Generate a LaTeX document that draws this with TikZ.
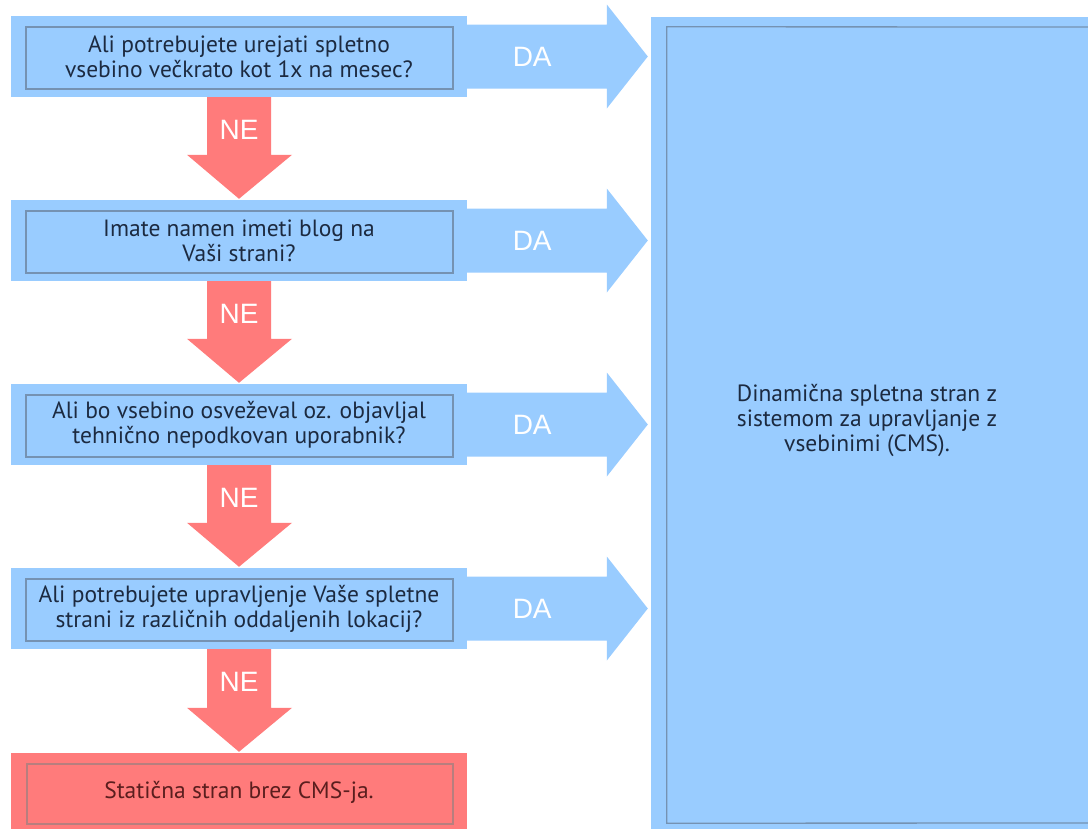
\documentclass[tikz,border=0pt]{standalone}
\usepackage{fontspec}
\setmainfont{PT Sans}
\newfontfamily\arialfont{Liberation Sans}
\usetikzlibrary{calc}
\definecolor{cblue}{HTML}{99CCFF}
\definecolor{cbline}{HTML}{7592B2}
\definecolor{cred}{HTML}{FF7B7B}
\definecolor{crline}{HTML}{B87E7E}
\definecolor{ctext}{HTML}{1C2A40}
\definecolor{crtext}{HTML}{5A1E1E}
\tikzset{
  qbox/.style={fill=cblue, minimum width=456bp, minimum height=81bp, inner sep=0pt,
    align=center, text=ctext, font=\fontsize{23.5bp}{25bp}\selectfont,
    path picture={\draw[cbline, line width=1.3bp]
      ([shift={(15bp,8bp)}]path picture bounding box.south west) rectangle
      ([shift={(-14bp,-11bp)}]path picture bounding box.north east);}},
  endbox/.style={fill=cred, minimum width=456bp, minimum height=78bp, inner sep=0pt,
    align=center, text=crtext, font=\fontsize{23.5bp}{25bp}\selectfont,
    path picture={\draw[crline, line width=1.3bp]
      ([shift={(16bp,7bp)}]path picture bounding box.south west) rectangle
      ([shift={(-14bp,-11bp)}]path picture bounding box.north east);}},
  dynbox/.style={fill=cblue, minimum width=520bp, minimum height=817bp, inner sep=0pt},
  innerline/.style={cbline, line width=1.3bp},
  dyntext/.style={align=center, text=ctext, font=\fontsize{23.5bp}{25bp}\selectfont, inner sep=0pt},
  yesno/.style={text=white, font=\arialfont\fontsize{28bp}{30bp}\selectfont, inner sep=0pt}
}
\newcommand\daarrow[2]{%
  \fill[cblue] ($(#1.east)+(0,-32)$) -- ($(#1.east -| dyn.west)+(-44,-32)$)
    -- ($(#1.east -| dyn.west)+(-44,-52)$) -- ($(#1.east -| dyn.west)+(-3,0)$)
    -- ($(#1.east -| dyn.west)+(-44,52)$) -- ($(#1.east -| dyn.west)+(-44,32)$)
    -- ($(#1.east)+(0,32)$) -- cycle;
  \node[yesno] (#2) at ($(#1.east)+(65,0)$) {DA};
}
\newcommand\nedown[3]{%
  \fill[cred] ($(#1.south)+(-32,0)$) -- ($(#2.north)+(-32,-45)$)
    -- ($(#2.north)+(-52,-45)$) -- ($(#2.north)+(0,-1)$)
    -- ($(#2.north)+(53,-45)$) -- ($(#2.north)+(32,-45)$)
    -- ($(#1.south)+(32,0)$) -- cycle;
  \node[yesno] (#3) at ($(#1.south)+(0,33)$) {NE};
}
\begin{document}
\begin{tikzpicture}[x=1bp,y=-1bp]
\useasboundingbox (0,0) rectangle (1088,829);
\fill[white] (-10,-10) rectangle (1100,840);

\node[qbox] (q1) at (239,56.5) {Ali potrebujete urejati spletno\\vsebino večkrato kot 1x na mesec?};
\node[qbox] (q2) at (239,240.5) {Imate namen imeti blog na\\Vaši strani?};
\node[qbox] (q3) at (239,424.5) {Ali bo vsebino osveževal oz. objavljal\\tehnično nepodkovan uporabnik?};
\node[qbox] (q4) at (239,608.5) {Ali potrebujete upravljenje Vaše spletne\\strani iz različnih oddaljenih lokacij?};
\node[endbox] (st) at (239,792) {Statična stran brez CMS-ja.};

\node[dynbox] (dyn) at (911,425.5) {};
\coordinate (dtr) at (1120,27);
\coordinate (dbr) at (1120,823);
\draw[innerline] (dtr) -- ([shift={(16bp,-10bp)}]dyn.north west) -- ([shift={(16bp,11bp)}]dyn.south west) -- (dbr);
\node[dyntext] (dt) at (867,420) {Dinamična spletna stran z\\sistemom za upravljanje z\\vsebinimi (CMS).};

\daarrow{q1}{da1}
\daarrow{q2}{da2}
\daarrow{q3}{da3}
\daarrow{q4}{da4}

\nedown{q1}{q2}{ne1}
\nedown{q2}{q3}{ne2}
\nedown{q3}{q4}{ne3}
\nedown{q4}{st}{ne4}
\end{tikzpicture}
\end{document}
